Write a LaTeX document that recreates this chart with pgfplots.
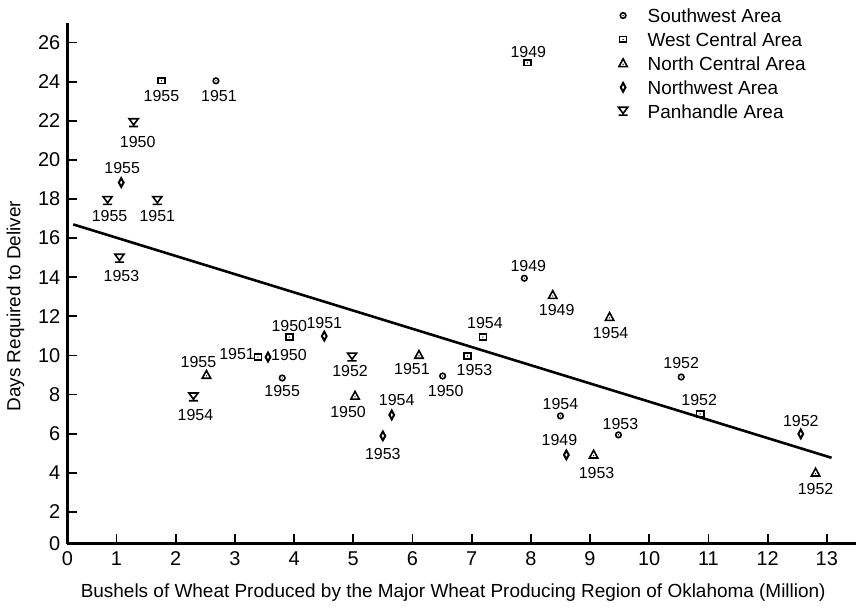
\documentclass[border=0pt]{standalone}
\usepackage{fontspec}
\setmainfont{Liberation Sans}
\usepackage{pgfplots}
\usepackage{pgfplotstable}
\pgfplotsset{compat=1.18}

\pgfdeclareplotmark{dcirc}{%
  \pgfpathcircle{\pgfpointorigin}{1.4pt}\pgfusepathqstroke
  \pgfpathcircle{\pgfpointorigin}{0.35pt}\pgfusepathqfill}
\pgfdeclareplotmark{dsq}{%
  \pgfpathrectangle{\pgfqpoint{-1.8pt}{-1.4pt}}{\pgfqpoint{3.6pt}{2.8pt}}\pgfusepathqstroke
  \pgfpathcircle{\pgfpointorigin}{0.35pt}\pgfusepathqfill}
\pgfdeclareplotmark{dtri}{%
  \pgfpathmoveto{\pgfqpoint{-2.1pt}{-1.6pt}}\pgfpathlineto{\pgfqpoint{2.1pt}{-1.6pt}}%
  \pgfpathlineto{\pgfqpoint{0pt}{2.3pt}}\pgfpathclose\pgfusepathqstroke
  \pgfpathcircle{\pgfqpoint{0pt}{-0.4pt}}{0.35pt}\pgfusepathqfill}
\pgfdeclareplotmark{ddia}{%
  \pgfpathmoveto{\pgfqpoint{0pt}{2.2pt}}\pgfpathlineto{\pgfqpoint{1.2pt}{0pt}}%
  \pgfpathlineto{\pgfqpoint{0pt}{-2.2pt}}\pgfpathlineto{\pgfqpoint{-1.2pt}{0pt}}%
  \pgfpathclose\pgfusepathqstroke}
\pgfdeclareplotmark{pan}{%
  \pgfpathmoveto{\pgfqpoint{-2.3pt}{2pt}}\pgfpathlineto{\pgfqpoint{2.3pt}{2pt}}%
  \pgfpathlineto{\pgfqpoint{0pt}{-1.1pt}}\pgfpathclose
  \pgfpathmoveto{\pgfqpoint{-2.3pt}{-1.9pt}}\pgfpathlineto{\pgfqpoint{2.3pt}{-1.9pt}}%
  \pgfusepathqstroke}

\pgfplotstableread{
x y yr dx dy
2.68 24.04 1951 1.5 -7.5
7.89 13.95 1949 2 6
3.80 8.85 1955 0 -6.5
6.51 8.95 1950 1.5 -7.5
8.50 6.91 1954 0 6
9.48 5.94 1953 1 5.5
10.54 8.90 1952 0 7
}\sw
\pgfplotstableread{
x y yr dx dy
1.76 24.04 1955 0 -7.5
7.94 24.96 1949 0.5 5.5
3.92 10.94 1950 0 5.5
3.39 9.92 1951 -10.5 1.5
7.19 10.94 1954 1 7
6.93 9.97 1953 3.5 -7
10.86 7.01 1952 -0.5 7
}\wc
\pgfplotstableread{
x y yr dx dy
2.52 9.00 1955 -4 6.5
5.03 7.93 1950 -3.5 -8
6.11 10.02 1951 -3.5 -7
8.37 13.08 1949 2 -7.5
9.33 11.96 1954 0.5 -8
9.06 4.92 1953 1.5 -9
12.81 4.00 1952 0 -8
}\nc
\pgfplotstableread{
x y yr dx dy
1.08 18.84 1955 0.5 7.5
3.56 9.92 1950 10.5 1
4.51 10.99 1951 0 6.5
5.65 6.96 1954 2.5 7.5
5.50 5.89 1953 0 -9
8.60 4.92 1949 -3.5 7.5
12.56 5.99 1952 0 6.5
}\nw
\pgfplotstableread{
x y yr dx dy
1.29 21.90 1950 2 -9.5
0.85 17.92 1955 1 -7.5
1.69 17.92 1951 0 -7.5
1.05 14.97 1953 1 -9
2.30 7.88 1954 1 -9
4.98 9.92 1952 -1 -7
}\ph

\pgfplotsset{
  pts/.style={only marks, black, mark options={line width=0.8pt, black},
    point meta=explicit symbolic,
    nodes near coords={\pgfplotspointmeta},
    visualization depends on={\thisrow{dx}\as\dx},
    visualization depends on={\thisrow{dy}\as\dy},
    every node near coord/.append style={anchor=center, xshift=\dx pt, yshift=\dy pt,
      font=\fontsize{8}{8}\selectfont, inner sep=0pt},
    legend image code/.code={\draw[mark repeat=1,mark phase=1,##1] plot coordinates {(0cm,0cm)};},
  }
}

\begin{document}
\begin{tikzpicture}
\begin{axis}[
  name=ax,
  scale only axis, width=395.5pt, height=261pt,
  xmin=0.17, xmax=13.5, ymin=0.38, ymax=27,
  axis x line=bottom, axis y line=left,
  axis line style={-, line width=1.6pt},
  xtick={0.17,1,2,3,4,5,6,7,8,9,10,11,12,13},
  xticklabels={0,1,2,3,4,5,6,7,8,9,10,11,12,13},
  ytick={0.38,2,4,6,8,10,12,14,16,18,20,22,24,26},
  yticklabels={0,2,4,6,8,10,12,14,16,18,20,22,24,26},
  tick align=inside, major tick length=5pt,
  tick style={line width=0.9pt, black},
  /pgf/number format/assume math mode=true,
  tick label style={font=\fontsize{10}{11}\selectfont},
  xticklabel style={yshift=-0.5pt},
  label style={font=\fontsize{9.5}{10}\selectfont},
  xlabel={Bushels of Wheat Produced by the Major Wheat Producing Region of Oklahoma (Million)},
  ylabel={Days Required to Deliver},
  xlabel style={at={([yshift=-16.8pt]rel axis cs:0.489,0)}, anchor=north},
  ylabel style={at={([xshift=-26pt]rel axis cs:0,0.456)}, anchor=center},
  clip=false,
  legend style={draw=none, fill=none, at={(rel axis cs:0.698,1.038)}, anchor=north west,
    font=\fontsize{9.5}{10}\selectfont, row sep=0pt, column sep=8pt, inner sep=0pt,
    nodes={inner ysep=2.5pt, text height=7pt, text depth=0pt}},
  legend cell align=left,
]
\addplot[pts, mark=dcirc] table[x=x,y=y,meta=yr]{\sw};
\addlegendentry{Southwest Area}
\addplot[pts, mark=dsq] table[x=x,y=y,meta=yr]{\wc};
\addlegendentry{West Central Area}
\addplot[pts, mark=dtri] table[x=x,y=y,meta=yr]{\nc};
\addlegendentry{North Central Area}
\addplot[pts, mark=ddia, mark options={line width=1pt}] table[x=x,y=y,meta=yr]{\nw};
\addlegendentry{Northwest Area}
\addplot[pts, mark=pan] table[x=x,y=y,meta=yr]{\ph};
\addlegendentry{Panhandle Area}
\addplot[black, line width=1.3pt, no marks, forget plot] coordinates {(0.27,16.70) (13.08,4.77)};
\end{axis}
\path ([xshift=-33.5pt,yshift=-30.5pt]ax.south west) rectangle ([yshift=11.5pt]ax.north east);
\end{tikzpicture}
\end{document}
